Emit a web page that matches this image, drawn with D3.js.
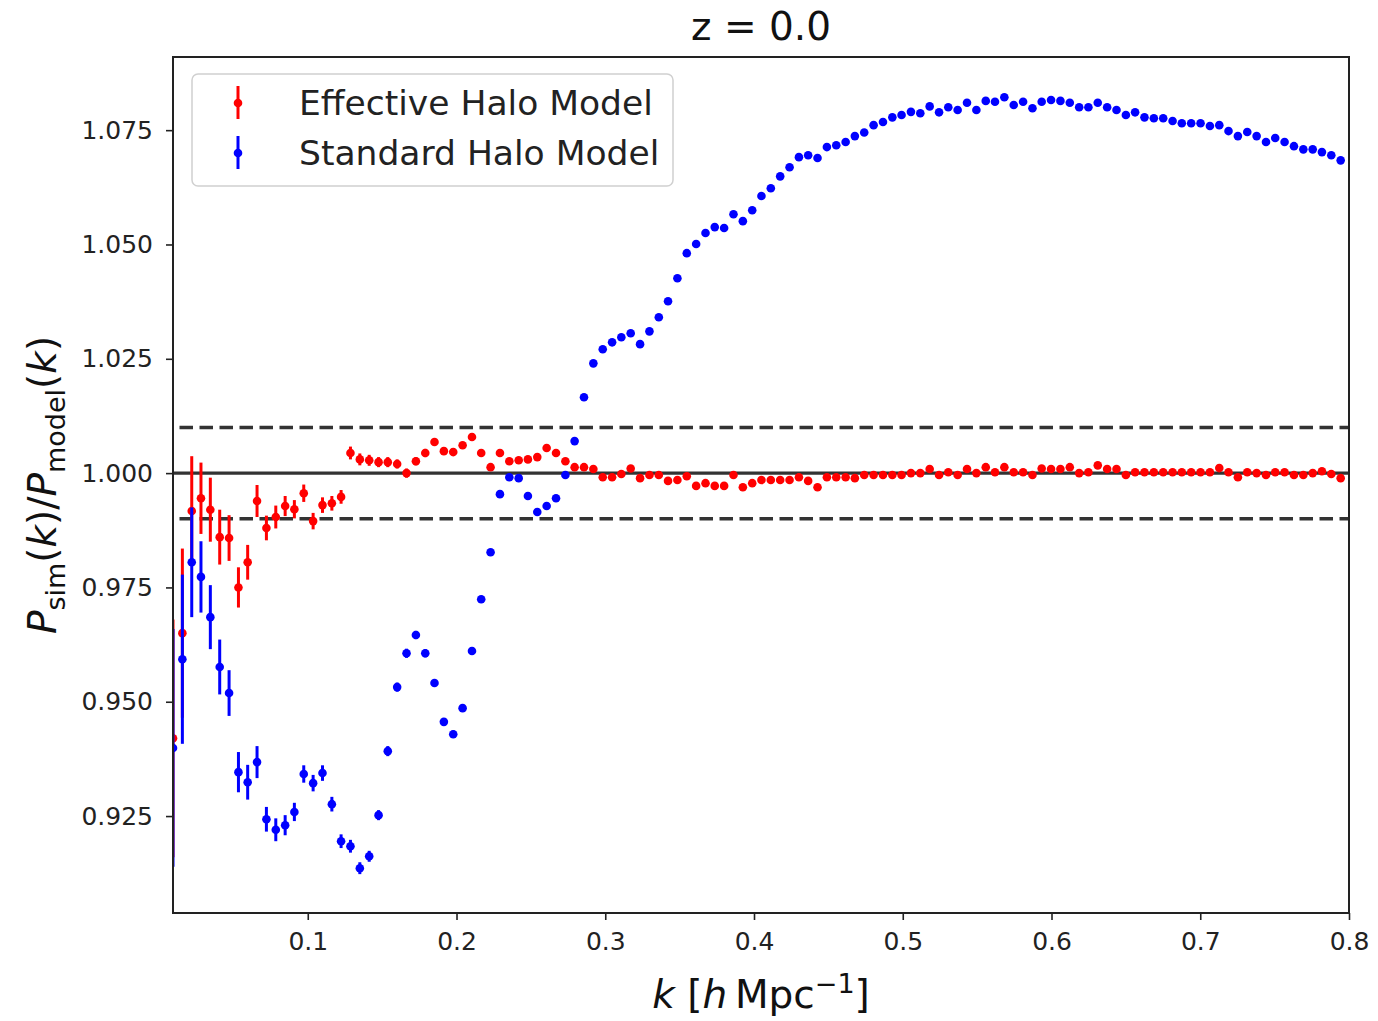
<!DOCTYPE html>
<html>
<head>
<meta charset="utf-8">
<script src="https://cdn.jsdelivr.net/npm/d3@7"></script>
<style>
body { margin: 0; background: #fff; }
text { font-family: "DejaVu Sans", sans-serif; }
</style>
</head>
<body>
<svg id="chart"></svg>
<script>
// k bins (h/Mpc)
var kValues = [0.0094, 0.0157, 0.0220, 0.0282, 0.0345, 0.0408, 0.0471, 0.0534, 0.0596, 0.0659,
    0.0722, 0.0785, 0.0848, 0.0910, 0.0973, 0.1036, 0.1099, 0.1162, 0.1224, 0.1287,
    0.1350, 0.1413, 0.1476, 0.1538, 0.1601, 0.1664, 0.1727, 0.1790, 0.1852, 0.1915,
    0.1978, 0.2041, 0.2104, 0.2166, 0.2229, 0.2292, 0.2355, 0.2418, 0.2480, 0.2543,
    0.2606, 0.2669, 0.2732, 0.2794, 0.2857, 0.2920, 0.2983, 0.3046, 0.3108, 0.3171,
    0.3234, 0.3297, 0.3360, 0.3422, 0.3485, 0.3548, 0.3611, 0.3674, 0.3736, 0.3799,
    0.3862, 0.3925, 0.3988, 0.4050, 0.4113, 0.4176, 0.4239, 0.4302, 0.4364, 0.4427,
    0.4490, 0.4553, 0.4616, 0.4678, 0.4741, 0.4804, 0.4867, 0.4930, 0.4992, 0.5055,
    0.5118, 0.5181, 0.5244, 0.5306, 0.5369, 0.5432, 0.5495, 0.5558, 0.5620, 0.5683,
    0.5746, 0.5809, 0.5872, 0.5934, 0.5997, 0.6060, 0.6123, 0.6186, 0.6248, 0.6311,
    0.6374, 0.6437, 0.6500, 0.6562, 0.6625, 0.6688, 0.6751, 0.6814, 0.6876, 0.6939,
    0.7002, 0.7065, 0.7128, 0.7190, 0.7253, 0.7316, 0.7379, 0.7442, 0.7504, 0.7567,
    0.7630, 0.7693, 0.7756, 0.7818, 0.7881, 0.7944]

// P_sim / P_model, effective halo model (red)
var effectiveRatio = [0.9420, 0.9650, 0.9917, 0.9945, 0.9920, 0.9860, 0.9858, 0.9750, 0.9805, 0.9939,
    0.9880, 0.9904, 0.9928, 0.9921, 0.9956, 0.9895, 0.9930, 0.9934, 0.9948, 1.0044,
    1.0030, 1.0028, 1.0024, 1.0024, 1.0020, 1.0000, 1.0026, 1.0044, 1.0068, 1.0048,
    1.0046, 1.0061, 1.0079, 1.0044, 1.0013, 1.0044, 1.0026, 1.0028, 1.0030, 1.0035,
    1.0055, 1.0044, 1.0026, 1.0013, 1.0013, 1.0009, 0.9991, 0.9991, 0.9998, 1.0010,
    0.9989, 0.9996, 0.9996, 0.9983, 0.9985, 0.9993, 0.9972, 0.9978, 0.9972, 0.9972,
    0.9996, 0.9969, 0.9978, 0.9985, 0.9985, 0.9985, 0.9985, 0.9991, 0.9983, 0.9969,
    0.9991, 0.9991, 0.9991, 0.9989, 0.9996, 0.9996, 0.9996, 0.9996, 0.9996, 1.0000,
    1.0000, 1.0009, 0.9996, 1.0002, 0.9996, 1.0009, 1.0000, 1.0013, 1.0002, 1.0013,
    1.0002, 1.0002, 0.9996, 1.0010, 1.0009, 1.0009, 1.0013, 1.0000, 1.0002, 1.0017,
    1.0009, 1.0009, 0.9996, 1.0002, 1.0002, 1.0002, 1.0002, 1.0002, 1.0002, 1.0002,
    1.0002, 1.0002, 1.0011, 1.0002, 0.9991, 1.0002, 1.0000, 0.9996, 1.0002, 1.0002,
    0.9996, 0.9996, 1.0000, 1.0004, 0.9998, 0.9989]

// P_sim / P_model, standard halo model (blue)
var standardRatio = [0.9399, 0.9593, 0.9805, 0.9773, 0.9685, 0.9576, 0.9519, 0.9346, 0.9324, 0.9368,
    0.9243, 0.9220, 0.9230, 0.9259, 0.9342, 0.9322, 0.9344, 0.9276, 0.9195, 0.9184,
    0.9136, 0.9162, 0.9252, 0.9392, 0.9532, 0.9606, 0.9646, 0.9606, 0.9541, 0.9456,
    0.9429, 0.9486, 0.9611, 0.9724, 0.9827, 0.9954, 0.9991, 0.9989, 0.9950, 0.9915,
    0.9928, 0.9945, 0.9996, 1.0070, 1.0166, 1.0240, 1.0271, 1.0286, 1.0297, 1.0306,
    1.0282, 1.0310, 1.0341, 1.0376, 1.0426, 1.0481, 1.0501, 1.0525, 1.0538, 1.0536,
    1.0566, 1.0551, 1.0575, 1.0606, 1.0623, 1.0649, 1.0669, 1.0691, 1.0695, 1.0689,
    1.0713, 1.0717, 1.0724, 1.0737, 1.0745, 1.0761, 1.0768, 1.0778, 1.0783, 1.0790,
    1.0787, 1.0802, 1.0789, 1.0800, 1.0794, 1.0810, 1.0794, 1.0814, 1.0812, 1.0822,
    1.0805, 1.0812, 1.0798, 1.0812, 1.0816, 1.0814, 1.0810, 1.0800, 1.0800, 1.0810,
    1.0800, 1.0794, 1.0783, 1.0789, 1.0778, 1.0776, 1.0776, 1.0770, 1.0765, 1.0765,
    1.0765, 1.0759, 1.0761, 1.0748, 1.0737, 1.0746, 1.0737, 1.0724, 1.0733, 1.0724,
    1.0715, 1.0708, 1.0708, 1.0702, 1.0695, 1.0684]

// 1-sigma error on the ratio (same simulation for both)
var ratioErr = [0.0260, 0.0185, 0.0120, 0.0078, 0.0070, 0.0060, 0.0050, 0.0044, 0.0038, 0.0035,
    0.0027, 0.0025, 0.0022, 0.0020, 0.0019, 0.0018, 0.0017, 0.0016, 0.0015, 0.0014,
    0.0013, 0.0012, 0.0011, 0.0011, 0.0010, 0.0010, 0.0009, 0.0009, 0.0008, 0.0008,
    0.0008, 0.0007, 0.0007, 0.0007, 0.0007, 0.0007, 0.0007, 0.0007, 0.0007, 0.0007,
    0.0007, 0.0006, 0.0006, 0.0006, 0.0006, 0.0006, 0.0006, 0.0006, 0.0006, 0.0006,
    0.0006, 0.0006, 0.0006, 0.0006, 0.0006, 0.0006, 0.0006, 0.0006, 0.0006, 0.0006,
    0.0006, 0.0005, 0.0005, 0.0005, 0.0005, 0.0005, 0.0005, 0.0005, 0.0005, 0.0005,
    0.0005, 0.0005, 0.0005, 0.0005, 0.0005, 0.0005, 0.0005, 0.0005, 0.0005, 0.0005,
    0.0005, 0.0005, 0.0005, 0.0005, 0.0005, 0.0005, 0.0005, 0.0005, 0.0005, 0.0005,
    0.0005, 0.0005, 0.0005, 0.0005, 0.0005, 0.0005, 0.0005, 0.0005, 0.0005, 0.0005,
    0.0005, 0.0005, 0.0005, 0.0005, 0.0005, 0.0005, 0.0005, 0.0005, 0.0005, 0.0005,
    0.0005, 0.0005, 0.0005, 0.0005, 0.0005, 0.0005, 0.0005, 0.0005, 0.0005, 0.0005,
    0.0005, 0.0005, 0.0005, 0.0005, 0.0005, 0.0005]

var seriesNames = ["Effective Halo Model", "Standard Halo Model"]
var seriesColors = ["#ff0000", "#0000ff"]
var xTicks = [0.1, 0.2, 0.3, 0.4, 0.5, 0.6, 0.7, 0.8]
var yTicks = [0.925, 0.950, 0.975, 1.000, 1.025, 1.050, 1.075]
var dashedLevels = [0.99, 1.01]
var xDomain = [0.0094, 0.8]
var yDomain = [0.9038, 1.0910]

var dimensions = {
    width: 1378,
    height: 1021,
    margin: { top: 57, bottom: 108, right: 29, left: 173 }
}

var svg = d3.select("#chart")
    .attr("width", dimensions.width)
    .attr("height", dimensions.height)

var xScale = d3.scaleLinear()
    .domain(xDomain)
    .range([dimensions.margin.left, dimensions.width - dimensions.margin.right])

var yScale = d3.scaleLinear()
    .domain(yDomain)
    .range([dimensions.height - dimensions.margin.bottom, dimensions.margin.top])

var plotW = dimensions.width - dimensions.margin.left - dimensions.margin.right
var plotH = dimensions.height - dimensions.margin.top - dimensions.margin.bottom
var plotMidX = dimensions.margin.left + plotW / 2
var plotMidY = dimensions.margin.top + plotH / 2

svg.append("clipPath").attr("id", "plotClip")
    .append("rect")
    .attr("x", dimensions.margin.left)
    .attr("y", dimensions.margin.top)
    .attr("width", plotW)
    .attr("height", plotH)

var plot = svg.append("g").attr("clip-path", "url(#plotClip)")

// reference lines
plot.append("line")
    .attr("x1", xScale.range()[0]).attr("x2", xScale.range()[1])
    .attr("y1", yScale(1)).attr("y2", yScale(1))
    .attr("stroke", "#333")
    .attr("stroke-width", 3.2)

plot.selectAll(".dashed")
    .data(dashedLevels)
    .enter()
    .append("line")
    .attr("class", "dashed")
    .attr("x1", xScale.range()[0]).attr("x2", xScale.range()[1])
    .attr("y1", d => yScale(d)).attr("y2", d => yScale(d))
    .attr("stroke", "#333")
    .attr("stroke-width", 3.5)
    .attr("stroke-dasharray", "13.5,6.5")
    .attr("stroke-dashoffset", 13.5)

var series = [
    { name: seriesNames[0], color: seriesColors[0], values: effectiveRatio },
    { name: seriesNames[1], color: seriesColors[1], values: standardRatio }
]

series.forEach(s => {
    var pts = kValues.map((k, i) => ({ k: k, v: s.values[i], e: ratioErr[i] }))
    var g = plot.append("g")
    g.selectAll("line")
        .data(pts)
        .enter()
        .append("line")
        .attr("x1", d => xScale(d.k)).attr("x2", d => xScale(d.k))
        .attr("y1", d => yScale(d.v - d.e)).attr("y2", d => yScale(d.v + d.e))
        .attr("stroke", s.color)
        .attr("stroke-width", 3)
    g.selectAll("circle")
        .data(pts)
        .enter()
        .append("circle")
        .attr("cx", d => xScale(d.k))
        .attr("cy", d => yScale(d.v))
        .attr("r", 4.3)
        .attr("fill", s.color)
})

// axes
var xAxisGen = d3.axisBottom(xScale)
    .tickValues(xTicks)
    .tickFormat(d3.format(".1f"))
    .tickSize(7)
    .tickSizeOuter(0)
    .tickPadding(12)

var yAxisGen = d3.axisLeft(yScale)
    .tickValues(yTicks)
    .tickFormat(d3.format(".3f"))
    .tickSize(7)
    .tickSizeOuter(0)
    .tickPadding(13)

var xAxis = svg.append("g")
    .attr("transform", "translate(0," + (dimensions.height - dimensions.margin.bottom) + ")")
    .call(xAxisGen)
var yAxis = svg.append("g")
    .attr("transform", "translate(" + dimensions.margin.left + ",0)")
    .call(yAxisGen)

;[xAxis, yAxis].forEach(ax => {
    ax.select(".domain").remove()
    ax.selectAll(".tick line").attr("stroke", "#222").attr("stroke-width", 1.6)
    ax.selectAll(".tick text")
        .style("font-family", "'DejaVu Sans', sans-serif")
        .style("font-size", "25px")
        .attr("fill", "#222")
})

// frame
svg.append("rect")
    .attr("x", dimensions.margin.left)
    .attr("y", dimensions.margin.top)
    .attr("width", plotW)
    .attr("height", plotH)
    .attr("fill", "none")
    .attr("stroke", "#222")
    .attr("stroke-width", 2)

// title
svg.append("text")
    .attr("x", plotMidX)
    .attr("y", 40)
    .attr("text-anchor", "middle")
    .style("font-size", "39px")
    .attr("fill", "#111")
    .text("z = 0.0")

// x label
var xLab = svg.append("text")
    .attr("x", plotMidX)
    .attr("y", 1008)
    .attr("text-anchor", "middle")
    .style("font-size", "39px")
    .attr("fill", "#111")
xLab.append("tspan").style("font-style", "italic").text("k")
xLab.append("tspan").text(" [")
xLab.append("tspan").style("font-style", "italic").text("h")
xLab.append("tspan").text("\u2009Mpc")
xLab.append("tspan").attr("dy", -15).style("font-size", "27px").text("\u22121")
xLab.append("tspan").attr("dy", 15).text("]")

// y label
var yLab = svg.append("text")
    .attr("transform", "translate(56," + plotMidY + ") rotate(-90)")
    .attr("text-anchor", "middle")
    .style("font-size", "39px")
    .attr("fill", "#111")
yLab.append("tspan").style("font-style", "italic").text("P")
yLab.append("tspan").attr("dy", 9).style("font-size", "27px").text("sim")
yLab.append("tspan").attr("dy", -9).text("(")
yLab.append("tspan").style("font-style", "italic").text("k")
yLab.append("tspan").text(")/")
yLab.append("tspan").style("font-style", "italic").text("P")
yLab.append("tspan").attr("dy", 9).style("font-size", "27px").text("model")
yLab.append("tspan").attr("dy", -9).text("(")
yLab.append("tspan").style("font-style", "italic").text("k")
yLab.append("tspan").text(")")

// legend
var legend = svg.append("g").attr("transform", "translate(192,74)")
legend.append("rect")
    .attr("width", 481)
    .attr("height", 112)
    .attr("rx", 6)
    .attr("fill", "white")
    .attr("fill-opacity", 0.85)
    .attr("stroke", "#d0d0d0")
    .attr("stroke-width", 1.5)

var legendRows = legend.selectAll(".row")
    .data(series)
    .enter()
    .append("g")
    .attr("class", "row")
    .attr("transform", (d, i) => "translate(0," + (29 + i * 50) + ")")

legendRows.append("line")
    .attr("x1", 46).attr("x2", 46)
    .attr("y1", -17).attr("y2", 16)
    .attr("stroke", d => d.color)
    .attr("stroke-width", 3)
legendRows.append("circle")
    .attr("cx", 46).attr("cy", 0)
    .attr("r", 4.3)
    .attr("fill", d => d.color)
legendRows.append("text")
    .attr("x", 107)
    .attr("y", 12)
    .style("font-size", "34.5px")
    .attr("fill", "#222")
    .text(d => d.name)
</script>
</body>
</html>
